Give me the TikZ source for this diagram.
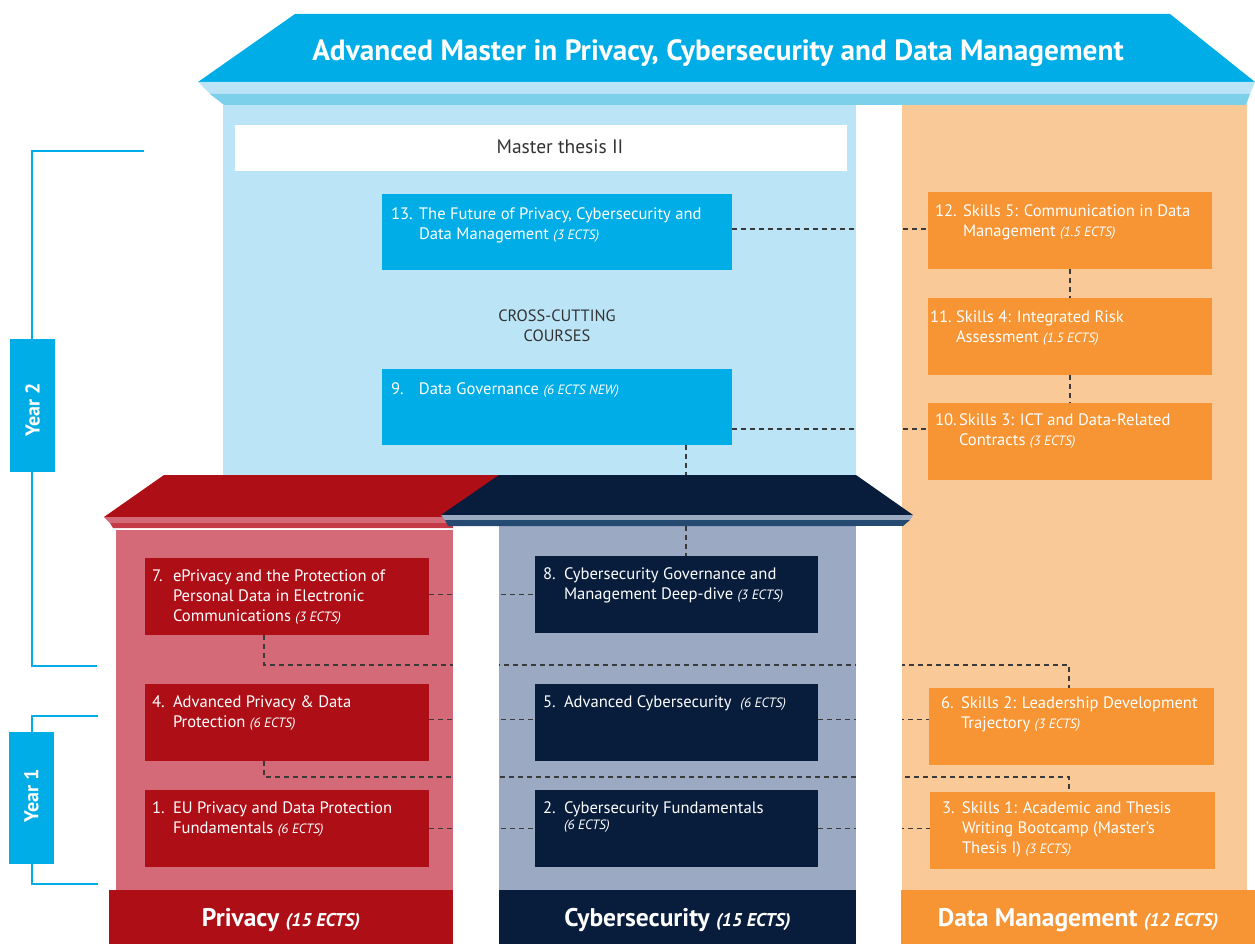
\documentclass[tikz,border=0pt]{standalone}
\usepackage{fontspec}
\setmainfont{PT Sans}
\usetikzlibrary{calc}
\definecolor{cyanD}{HTML}{00ADE6}
\definecolor{lblue}{HTML}{BBE4F6}
\definecolor{mblue}{HTML}{7DD0EA}
\definecolor{redD}{HTML}{AE0E16}
\definecolor{redL}{HTML}{D46A78}
\definecolor{redM}{HTML}{C43A46}
\definecolor{navyD}{HTML}{081C3B}
\definecolor{navyL}{HTML}{9BA9C3}
\definecolor{navyM}{HTML}{244A71}
\definecolor{orD}{HTML}{F79433}
\definecolor{orL}{HTML}{FAC998}
\definecolor{dashc}{HTML}{3A3A3A}
\definecolor{txtg}{HTML}{333333}
\pgfdeclarelayer{bg}
\pgfdeclarelayer{conn}
\pgfsetlayers{bg,conn,main}
\newcommand\ects[1]{{\fontsize{13.5}{20}\selectfont\itshape #1}}
\newcommand\mkcourse[6]{\node[ctext, anchor=base west] (t#1) at ($(#1.north west)+(#2,#3)$) {\makebox[#4pt][l]{#5}\begin{tabular}[t]{@{}l@{}}#6\end{tabular}};}
\tikzset{
  cbox/.style={rectangle, inner sep=0pt, outer sep=0pt, anchor=north west},
  ctext/.style={inner sep=0pt, outer sep=0pt, text=white, font=\fontsize{16.6}{20}\selectfont},
  conn/.style={draw=dashc, line width=1.3pt, dash pattern=on 5pt off 4pt},
  yline/.style={draw=cyanD, line width=2pt},
  lab/.style={cbox, text=white, text depth=0pt, font=\bfseries\fontsize{25.5}{28}\selectfont},
}
\begin{document}
\begin{tikzpicture}[x=1pt,y=-1pt]
\useasboundingbox (0,0) rectangle (1255,944);
\begin{pgfonlayer}{bg}
  % columns
  \fill[lblue] (223,105) rectangle (856,475);
  \fill[orL] (902,105) rectangle (1247,890);
  \fill[redL] (116,530) rectangle (453,890);
  \fill[navyL] (499,526) rectangle (856,890);
\end{pgfonlayer}
% main roof
\fill[cyanD] (295,14) -- (1170,14) -- (1255,82) -- (198,82) -- cycle;
\fill[lblue] (198,82) -- (1255,82) -- (1250,94) -- (210,94) -- cycle;
\fill[mblue] (210,94) -- (1250,94) -- (1246,105) -- (224,105) -- cycle;
\node[font=\bfseries\fontsize{29.3}{32}\selectfont, text=white, anchor=base, inner sep=0pt] (title) at (718,61) {Advanced Master in Privacy, Cybersecurity and Data Management};
% year brackets
\draw[yline] (144,151) -- (32,151) -- (32,666) -- (97,666);
\draw[yline] (98,716) -- (32,716) -- (32,884) -- (98,884);
\node[cbox, fill=cyanD, minimum width=45, minimum height=133] (y2) at (10,339) {};
\node[rotate=90, text=white, font=\bfseries\fontsize{20}{24}\selectfont, inner sep=0pt] (y2t) at ($(y2.center)+(0,4)$) {Year 2};
\node[cbox, fill=cyanD, minimum width=45, minimum height=132] (y1) at (9,732) {};
\node[rotate=90, text=white, font=\bfseries\fontsize{20}{24}\selectfont, inner sep=0pt] (y1t) at ($(y1.center)+(0,-2)$) {Year 1};
% red roof
\fill[redD] (164,475) -- (520,475) -- (470,517) -- (104,517) -- cycle;
\fill[redL] (104,517) -- (453,517) -- (453,523) -- (110,523) -- cycle;
\fill[redM] (110,523) -- (453,523) -- (453,528) -- (113,528) -- cycle;
% cyber roof
\fill[navyD] (499,475) -- (856,475) -- (913,515) -- (441,515) -- cycle;
\fill[navyL] (441,515) -- (913,515) -- (910,520) -- (445,520) -- cycle;
\fill[navyM] (445,520) -- (910,520) -- (903,526) -- (448,526) -- cycle;
% white gaps
\fill[white] (453,530) rectangle (499,890);
\fill[white] (856,105) rectangle (902,475);
\fill[white] (856,526) rectangle (902,890);
% master thesis + cross cutting
\node[cbox, fill=white, minimum width=612, minimum height=46] (mt) at (235,125) {};
\node[anchor=base, inner sep=0pt, text=txtg, font=\fontsize{19.5}{22}\selectfont] (mtt) at (560,154) {Master thesis II};
\node[anchor=base, inner sep=0pt, text=txtg, font=\fontsize{16.4}{20}\selectfont] (cc) at (557,321) {\begin{tabular}[t]{@{}c@{}}CROSS-CUTTING\\COURSES\end{tabular}};
% boxes
\node[cbox, fill=cyanD, minimum width=350, minimum height=76] (b13) at (382,194) {};
\node[cbox, fill=cyanD, minimum width=350, minimum height=76] (b9) at (382,369) {};
\node[cbox, fill=orD, minimum width=284, minimum height=77] (b12) at (928,192) {};
\node[cbox, fill=orD, minimum width=284, minimum height=77] (b11) at (928,298) {};
\node[cbox, fill=orD, minimum width=284, minimum height=77] (b10) at (928,403) {};
\node[cbox, fill=redD, minimum width=284, minimum height=77] (b7) at (145,558) {};
\node[cbox, fill=redD, minimum width=284, minimum height=77] (b4) at (145,684) {};
\node[cbox, fill=redD, minimum width=284, minimum height=77] (b1) at (145,790) {};
\node[cbox, fill=navyD, minimum width=283, minimum height=77] (b8) at (535,556) {};
\node[cbox, fill=navyD, minimum width=283, minimum height=77] (b5) at (535,684) {};
\node[cbox, fill=navyD, minimum width=283, minimum height=77] (b2) at (535,790) {};
\node[cbox, fill=orD, minimum width=285, minimum height=77] (b6) at (929,688) {};
\node[cbox, fill=orD, minimum width=285, minimum height=77] (b3) at (930,792) {};
% texts
\mkcourse{b13}{9}{25}{28}{13.}{The Future of Privacy, Cybersecurity and\\Data Management \ects{(3 ECTS)}}
\mkcourse{b9}{9}{25}{28}{9.}{Data Governance \ects{(6 ECTS NEW)}}
\mkcourse{b12}{7}{25}{28}{12.}{Skills 5: Communication in Data\\Management \ects{(1.5 ECTS)}}
\mkcourse{b11}{2}{24}{26}{11.}{Skills 4: Integrated Risk\\Assessment \ects{(1.5 ECTS)}}
\mkcourse{b10}{7}{22}{24}{10.}{Skills 3: ICT and Data-Related\\Contracts \ects{(3 ECTS)}}
\mkcourse{b7}{7}{23}{21}{7.}{ePrivacy and the Protection of\\Personal Data in Electronic\\Communications \ects{(3 ECTS)}}
\mkcourse{b4}{7}{23}{21}{4.}{Advanced Privacy \& Data\\Protection \ects{(6 ECTS)}}
\mkcourse{b1}{7}{23}{21}{1.}{EU Privacy and Data Protection\\Fundamentals \ects{(6 ECTS)}}
\mkcourse{b8}{8}{23}{21}{8.}{Cybersecurity Governance and\\Management Deep-dive \ects{(3 ECTS)}}
\mkcourse{b5}{8}{23}{21}{5.}{Advanced Cybersecurity\ \ \ects{(6 ECTS)}}
\mkcourse{b2}{8}{23}{21}{2.}{Cybersecurity Fundamentals\\[-4pt]\ects{(6 ECTS)}}
\mkcourse{b6}{12}{20}{20}{6.}{Skills 2: Leadership Development\\Trajectory \ects{(3 ECTS)}}
\mkcourse{b3}{12}{21}{20}{3.}{Skills 1: Academic and Thesis\\Writing Bootcamp (Master’s\\Thesis I) \ects{(3 ECTS)}}
% bottom labels
\node[lab, fill=redD, minimum width=344, minimum height=54] (lp) at (109,890) {Privacy {\fontsize{18.5}{20}\selectfont\itshape (15 ECTS)}};
\node[lab, fill=navyD, minimum width=357, minimum height=54] (lc) at (499,890) {Cybersecurity {\fontsize{18.5}{20}\selectfont\itshape (15 ECTS)}};
\node[lab, fill=orD, minimum width=354, minimum height=54] (ld) at (901,890) {Data Management {\fontsize{18.5}{20}\selectfont\itshape (12 ECTS)}};
% connectors
\begin{pgfonlayer}{conn}
  \coordinate (c13) at ([yshift=3pt]b13.east);
  \draw[conn] (c13) -- (c13 -| b12.west);
  \coordinate (c9) at ([yshift=16pt]b9.south east);
  \draw[conn] (c9) -- (c9 -| b10.west);
  \coordinate (c98) at ([xshift=129pt]b9.south);
  \draw[conn] (c98) -- (c98 |- b8.north);
  \draw[conn] (b12.south) -- (b11.north);
  \draw[conn] (b11.south) -- (b10.north);
  \draw[conn] (b8.west -| b7.east) -- (b8.west);
  \coordinate (c7) at ([xshift=-23pt]b7.south);
  \coordinate (c6) at ([xshift=-2.5pt]b6.north);
  \draw[conn] (c7) -- ++(0,30) -| (c6);
  \coordinate (c4) at ([yshift=3pt]b4.east);
  \draw[conn] (c4) -- (c4 -| b5.west);
  \coordinate (c5) at ([yshift=3pt]b5.east);
  \draw[conn] (c5) -- (c5 -| b6.west);
  \coordinate (c4d) at ([xshift=-23pt]b4.south);
  \coordinate (c3) at ([xshift=-3.5pt]b3.north);
  \draw[conn] (c4d) -- ++(0,16) -| (c3);
  \draw[conn] (b1.east) -- (b2.west);
  \draw[conn] (b2.east) -- (b2.east -| b3.west);
\end{pgfonlayer}
\end{tikzpicture}
\end{document}
